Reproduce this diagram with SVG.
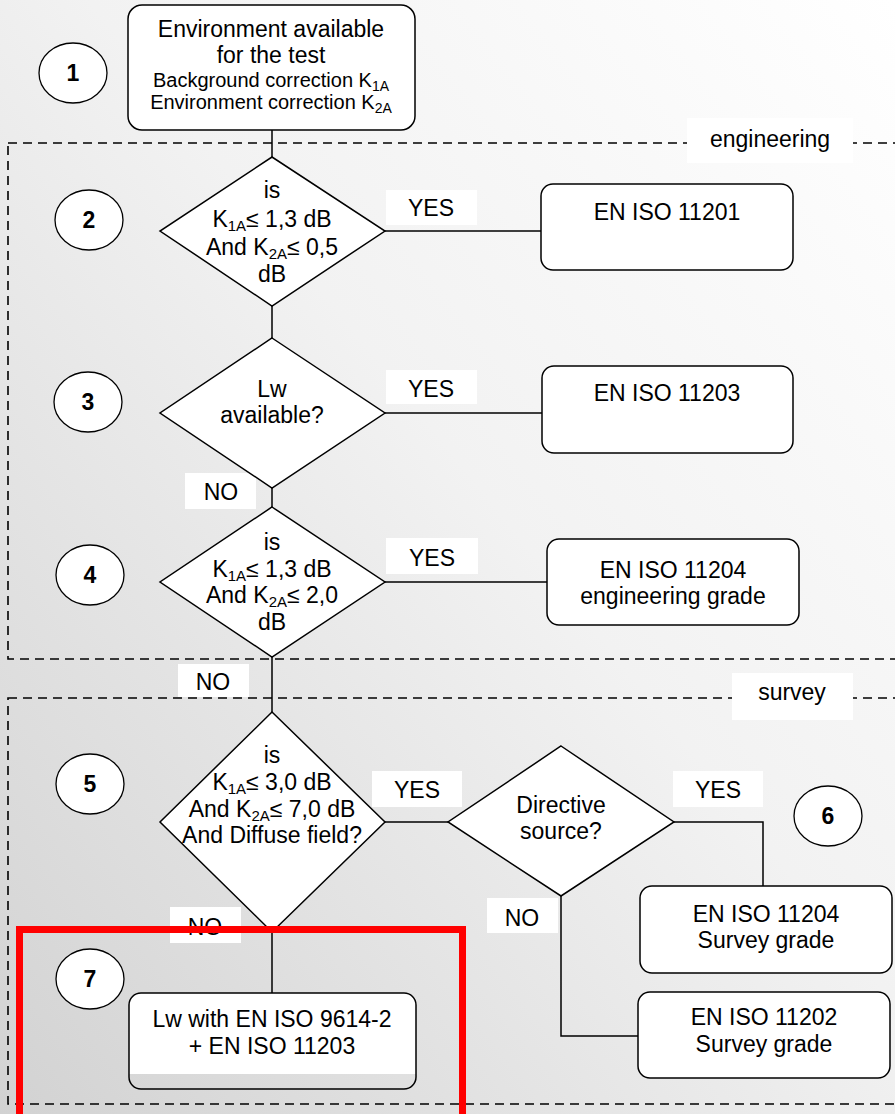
<svg xmlns="http://www.w3.org/2000/svg" width="895" height="1114" viewBox="0 0 895 1114">
<defs>
<linearGradient id="bg" x1="1" y1="0" x2="0" y2="1">
<stop offset="0" stop-color="#ffffff"/>
<stop offset="0.45" stop-color="#f2f2f2"/>
<stop offset="1" stop-color="#d2d2d2"/>
</linearGradient>
<linearGradient id="partfill" x1="0" y1="0" x2="0" y2="1">
<stop offset="0.84" stop-color="#ffffff"/>
<stop offset="0.84" stop-color="#ffffff" stop-opacity="0"/>
</linearGradient>
</defs>
<style>
text{font-family:"Liberation Sans",Arial,sans-serif;font-size:23px;fill:#000;text-anchor:middle}
.num{font-weight:bold;font-size:23px}
.sm{font-size:20px}
.sub{font-size:15px}
.sm .sub{font-size:14px}
.node{fill:#fff;stroke:#000;stroke-width:1.5}
.ell{fill:#fff;stroke:#000;stroke-width:1.3}
.lbl{fill:#fff;stroke:none}
.conn{fill:none;stroke:#000;stroke-width:1.5}
.zone{fill:none;stroke:#000;stroke-width:1.6;stroke-dasharray:9 6}
</style>
<rect x="0" y="0" width="895" height="1114" fill="url(#bg)"/>

<g id="zones">
<rect class="zone" x="8" y="143" width="900" height="516"/>
<rect class="zone" x="8" y="698" width="900" height="406"/>
<rect class="lbl" x="687" y="118" width="166" height="45"/>
<text x="770" y="147">engineering</text>
<rect class="lbl" x="732" y="673" width="121" height="47"/>
<text x="792" y="700">survey</text>
</g>

<g id="connectors">
<path class="conn" d="M272 130 V157"/>
<path class="conn" d="M272 306 V338"/>
<path class="conn" d="M272 488 V507"/>
<path class="conn" d="M272 657 V712"/>
<path class="conn" d="M272 930 V993"/>
<path class="conn" d="M385 231 H541"/>
<path class="conn" d="M385 413 H542"/>
<path class="conn" d="M385 582 H547"/>
<path class="conn" d="M385 822 H448"/>
<path class="conn" d="M674 822 H763 V886"/>
<path class="conn" d="M561 896 V1036 H638"/>
</g>

<g id="labels">
<rect class="lbl" x="386" y="190" width="91" height="35"/>
<text x="431" y="216">YES</text>
<rect class="lbl" x="386" y="370" width="91" height="34"/>
<text x="431" y="397">YES</text>
<rect class="lbl" x="386" y="538" width="92" height="36"/>
<text x="432" y="566">YES</text>
<rect class="lbl" x="185" y="473" width="71" height="36"/>
<text x="221" y="500">NO</text>
<rect class="lbl" x="178" y="664" width="71" height="33"/>
<text x="213" y="690">NO</text>
<rect class="lbl" x="372" y="771" width="90" height="36"/>
<text x="417" y="798">YES</text>
<rect class="lbl" x="673" y="771" width="90" height="36"/>
<text x="718" y="798">YES</text>
<rect class="lbl" x="487" y="898" width="71" height="35"/>
<text x="522" y="926">NO</text>
<rect class="lbl" x="170" y="907" width="71" height="36"/>
<text x="205" y="935">NO</text>
</g>

<g id="node1">
<rect class="node" x="128" y="5" width="287" height="125" rx="14"/>
<text x="271" y="37">Environment available</text>
<text x="271" y="63">for the test</text>
<text class="sm" x="271" y="87">Background correction K<tspan class="sub" dy="4">1A</tspan></text>
<text class="sm" x="271" y="109">Environment correction K<tspan class="sub" dy="4">2A</tspan></text>
</g>
<g id="n1-num"><ellipse class="ell" cx="73" cy="73" rx="34" ry="30"/><text class="num" x="73" y="81">1</text></g>

<g id="node2">
<polygon class="node" points="272,157 385,231 272,306 160,231"/>
<text x="272" y="198">is</text>
<text x="272" y="227">K<tspan class="sub" dy="4">1A</tspan><tspan dy="-4">≤ 1,3 dB</tspan></text>
<text x="272" y="255">And K<tspan class="sub" dy="4">2A</tspan><tspan dy="-4">≤ 0,5</tspan></text>
<text x="272" y="282">dB</text>
</g>
<g id="n2-num"><ellipse class="ell" cx="89" cy="220" rx="34" ry="30"/><text class="num" x="89" y="228">2</text></g>

<g id="box11201">
<rect class="node" x="541" y="184" width="252" height="86" rx="12"/>
<text x="667" y="220">EN ISO 11201</text>
</g>

<g id="node3">
<polygon class="node" points="272,338 385,413 272,488 160,413"/>
<text x="272" y="397">Lw</text>
<text x="272" y="423">available?</text>
</g>
<g id="n3-num"><ellipse class="ell" cx="88" cy="402" rx="34" ry="30"/><text class="num" x="88" y="410">3</text></g>

<g id="box11203">
<rect class="node" x="542" y="366" width="251" height="87" rx="12"/>
<text x="667" y="401">EN ISO 11203</text>
</g>

<g id="node4">
<polygon class="node" points="272,507 385,582 272,657 160,582"/>
<text x="272" y="550">is</text>
<text x="272" y="577">K<tspan class="sub" dy="4">1A</tspan><tspan dy="-4">≤ 1,3 dB</tspan></text>
<text x="272" y="603">And K<tspan class="sub" dy="4">2A</tspan><tspan dy="-4">≤ 2,0</tspan></text>
<text x="272" y="630">dB</text>
</g>
<g id="n4-num"><ellipse class="ell" cx="90" cy="575" rx="34" ry="30"/><text class="num" x="90" y="583">4</text></g>

<g id="box11204e">
<rect class="node" x="547" y="539" width="252" height="86" rx="12"/>
<text x="673" y="578">EN ISO 11204</text>
<text x="673" y="604">engineering grade</text>
</g>

<g id="node5">
<polygon class="node" points="272,712 385,822 272,932 160,822"/>
<text x="272" y="763">is</text>
<text x="272" y="790">K<tspan class="sub" dy="4">1A</tspan><tspan dy="-4">≤ 3,0 dB</tspan></text>
<text x="272" y="817">And K<tspan class="sub" dy="4">2A</tspan><tspan dy="-4">≤ 7,0 dB</tspan></text>
<text x="272" y="843">And Diffuse field?</text>
</g>
<g id="n5-num"><ellipse class="ell" cx="90" cy="784" rx="34" ry="30"/><text class="num" x="90" y="792">5</text></g>

<g id="node6">
<polygon class="node" points="561,746 674,822 561,896 448,822"/>
<text x="561" y="813">Directive</text>
<text x="561" y="839">source?</text>
</g>
<g id="n6-num"><ellipse class="ell" cx="828" cy="816" rx="34" ry="30"/><text class="num" x="828" y="824">6</text></g>

<g id="box11204s">
<rect class="node" x="640" y="886" width="252" height="87" rx="12"/>
<text x="766" y="922">EN ISO 11204</text>
<text x="766" y="948">Survey grade</text>
</g>

<g id="box11202">
<rect class="node" x="638" y="992" width="252" height="86" rx="12"/>
<text x="764" y="1025">EN ISO 11202</text>
<text x="764" y="1052">Survey grade</text>
</g>

<g id="node7">
<rect x="129" y="993" width="287" height="96" rx="12" fill="url(#partfill)" stroke="#000" stroke-width="1.5"/>
<text x="272" y="1027">Lw with EN ISO 9614-2</text>
<text x="272" y="1054">+ EN ISO 11203</text>
</g>
<g id="n7-num"><ellipse class="ell" cx="90" cy="979" rx="34" ry="30"/><text class="num" x="90" y="987">7</text></g>

<g id="highlight">
<rect x="19.5" y="929.5" width="443" height="200" fill="none" stroke="#ff0000" stroke-width="7"/>
</g>
</svg>
